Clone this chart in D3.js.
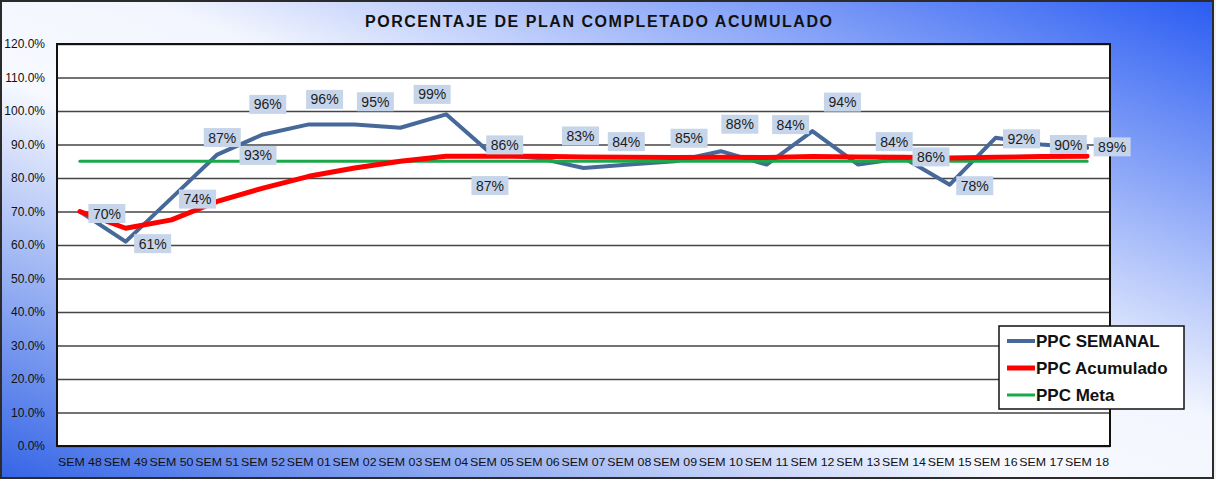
<!DOCTYPE html>
<html>
<head>
<meta charset="utf-8">
<script src="https://cdn.jsdelivr.net/npm/d3@7"></script>
<style>
  html, body { margin: 0; padding: 0; background: #fff; }
  svg { display: block; }
</style>
</head>
<body>
<div id="chart"></div>
<script>
// ---- data ----
const weeks = ['SEM 48', 'SEM 49', 'SEM 50', 'SEM 51', 'SEM 52', 'SEM 01', 'SEM 02', 'SEM 03',
  'SEM 04', 'SEM 05', 'SEM 06', 'SEM 07', 'SEM 08', 'SEM 09', 'SEM 10', 'SEM 11', 'SEM 12',
  'SEM 13', 'SEM 14', 'SEM 15', 'SEM 16', 'SEM 17', 'SEM 18'];
const ppcSemanal   = [70, 61, 74, 87, 93, 96, 96, 95, 99, 87, 86, 83, 84, 85, 88, 84, 94, 84, 86, 78, 92, 90, 89];
const ppcAcumulado = [70, 65, 67.5, 73, 77, 80.5, 83, 85, 86.5, 86.5, 86.5, 86.3, 86.2, 86.1, 86.2, 86.1, 86.4, 86.3, 86.2, 86, 86.2, 86.4, 86.5];
const ppcMeta      = [85, 85, 85, 85, 85, 85, 85, 85, 85, 85, 85, 85, 85, 85, 85, 85, 85, 85, 85, 85, 85, 85, 85];
const yTicks = [0, 10, 20, 30, 40, 50, 60, 70, 80, 90, 100, 110, 120];
const seriesNames = ['PPC SEMANAL', 'PPC Acumulado', 'PPC Meta'];
const title = 'PORCENTAJE DE PLAN COMPLETADO ACUMULADO';

// label nudges (px) relative to each weekly point, the way they sit in the original
const labelNudge = [[27, 2], [27, 2], [26, 1], [5, -17], [-5, 21], [-41, -20], [-30, -25], [-25, -26],
  [-14, -20], [-2, 31], [-33, -13], [-3, -32], [-3, -23], [14, -23], [19, -27], [24, -40], [30, -29],
  [36, -23], [27, -1], [25, 1], [26, 1], [27, 0], [25, -1]];

const W = 1216, H = 479;
const plot = { left: 57, right: 1110, top: 44, bottom: 446 };
const colors = { semanal: '#46699a', acumulado: '#ff0000', meta: '#1aa84b' };

const svg = d3.select('#chart').append('svg')
  .attr('width', W).attr('height', H)
  .style('font-family', 'Arial, "Liberation Sans", sans-serif');

const defs = svg.append('defs');
const bg = defs.append('linearGradient')
  .attr('id', 'bgGrad')
  .attr('x1', 0).attr('y1', 1).attr('x2', 1).attr('y2', 0);
bg.append('stop').attr('offset', 0).attr('stop-color', '#3565e6');
bg.append('stop').attr('offset', 0.42).attr('stop-color', '#f7f9ff');
bg.append('stop').attr('offset', 0.56).attr('stop-color', '#f3f6fe');
bg.append('stop').attr('offset', 1).attr('stop-color', '#2a5cf2');

svg.append('rect').attr('width', W).attr('height', H).attr('fill', '#f2f2f2');
svg.append('rect')
  .attr('x', 1).attr('y', 1).attr('width', 1212).attr('height', 477)
  .attr('fill', 'url(#bgGrad)')
  .attr('stroke', '#2b2b2b').attr('stroke-width', 2);

svg.append('text')
  .attr('x', 365).attr('y', 27)
  .attr('textLength', 467).attr('lengthAdjust', 'spacing')
  .attr('font-size', 16).attr('font-weight', 'bold')
  .attr('fill', '#111')
  .text(title);

// scales
const x = d3.scaleBand().domain(weeks).range([plot.left, plot.right]);
const cx = d => x(d) + x.bandwidth() / 2;
const y = d3.scaleLinear().domain([0, 120]).range([plot.bottom, plot.top]);

svg.append('rect')
  .attr('x', plot.left).attr('y', plot.top)
  .attr('width', plot.right - plot.left).attr('height', plot.bottom - plot.top)
  .attr('fill', '#fff');

// gridlines
svg.append('g')
  .attr('transform', `translate(${plot.left},0)`)
  .call(d3.axisLeft(y).tickValues(yTicks).tickSize(-(plot.right - plot.left)).tickFormat(''))
  .call(g => g.select('.domain').remove())
  .call(g => g.selectAll('line').attr('stroke', '#454545').attr('stroke-width', 1.4));

// y axis labels
svg.append('g')
  .attr('transform', `translate(${plot.left},0)`)
  .call(d3.axisLeft(y).tickValues(yTicks).tickSize(0).tickPadding(12).tickFormat(d => d.toFixed(1) + '%'))
  .call(g => g.select('.domain').remove())
  .call(g => g.selectAll('text').attr('font-size', 12).attr('fill', '#111').attr('font-family', 'Arial, "Liberation Sans", sans-serif'));

// x axis labels
svg.append('g')
  .attr('transform', `translate(0,${plot.bottom})`)
  .call(d3.axisBottom(x).tickSize(0).tickPadding(12))
  .call(g => g.select('.domain').remove())
  .call(g => g.selectAll('text')
    .attr('font-size', 11.5).attr('fill', '#111')
    .attr('font-family', 'Arial, "Liberation Sans", sans-serif')
    .attr('textLength', 44).attr('lengthAdjust', 'spacingAndGlyphs'));

svg.append('rect')
  .attr('x', plot.left).attr('y', plot.top)
  .attr('width', plot.right - plot.left).attr('height', plot.bottom - plot.top)
  .attr('fill', 'none').attr('stroke', '#111').attr('stroke-width', 2);

// lines
const line = d3.line().x((d, i) => cx(weeks[i])).y(d => y(d));
const linesG = svg.append('g').attr('fill', 'none').attr('stroke-linejoin', 'round').attr('stroke-linecap', 'round');
linesG.append('path').attr('d', line(ppcSemanal)).attr('stroke', colors.semanal).attr('stroke-width', 4);
linesG.append('path').attr('d', line(ppcMeta)).attr('stroke', colors.meta).attr('stroke-width', 3);
linesG.append('path').attr('d', line(ppcAcumulado)).attr('stroke', colors.acumulado).attr('stroke-width', 5);

// data labels
const labels = svg.append('g').selectAll('g')
  .data(ppcSemanal)
  .join('g')
  .attr('transform', (d, i) => `translate(${cx(weeks[i]) + labelNudge[i][0]},${y(d) + labelNudge[i][1]})`);
labels.append('rect')
  .attr('x', -18.5).attr('y', -9.5).attr('width', 37).attr('height', 19)
  .attr('fill', '#c7d5ea');
labels.append('text')
  .attr('text-anchor', 'middle').attr('dy', '0.36em')
  .attr('font-size', 14).attr('fill', '#1c1c1c')
  .text(d => Math.round(d) + '%');

// legend
const legend = svg.append('g').attr('transform', 'translate(999,326)');
legend.append('rect')
  .attr('width', 185).attr('height', 83)
  .attr('fill', '#fff').attr('stroke', '#111').attr('stroke-width', 1.5);
const legendColors = [colors.semanal, colors.acumulado, colors.meta];
const legendWidths = [4, 5, 3];
seriesNames.forEach((name, i) => {
  const row = legend.append('g').attr('transform', `translate(0,${15 + i * 27})`);
  row.append('line')
    .attr('x1', 8).attr('x2', 36).attr('y1', 0).attr('y2', 0)
    .attr('stroke', legendColors[i]).attr('stroke-width', legendWidths[i]);
  row.append('text')
    .attr('x', 37).attr('dy', '0.36em')
    .attr('font-size', 17).attr('font-weight', 'bold').attr('fill', '#111')
    .text(name);
});
</script>
</body>
</html>
